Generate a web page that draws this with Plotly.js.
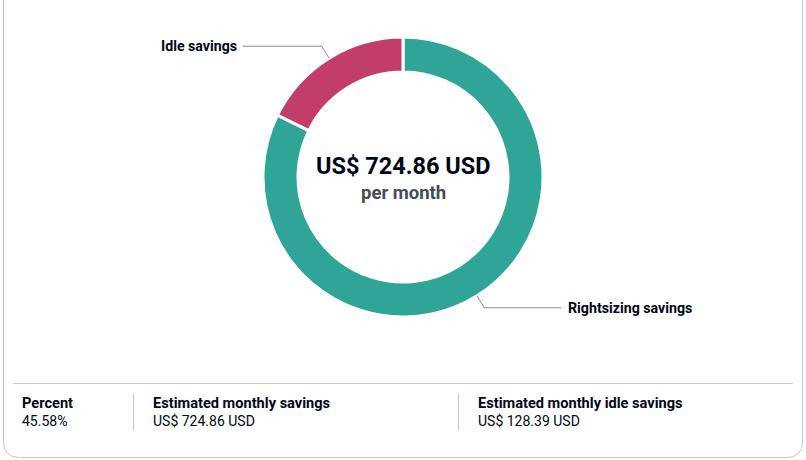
<!DOCTYPE html>
<html>
<head>
<meta charset="utf-8">
<script src="https://cdn.plot.ly/plotly-3.0.1.min.js"></script>
<style>html,body{margin:0;padding:0;background:#fff;}#chart{width:806px;height:460px;}</style>
</head>
<body>
<div id="chart"></div>
<script>
// ---- data (in drawing order, clockwise from 12 o'clock) ----
const sliceLabels = ["Rightsizing savings", "Idle savings"];
const sliceValues = [596.47, 128.39];
const sliceColors = ["#2ea597", "#c33d69"];
const centerTitle = "US$ 724.86 USD";
const centerSub = "per month";
const statHeaders = ["Percent", "Estimated monthly savings", "Estimated monthly idle savings"];
const statValues = ["45.58%", "US$ 724.86 USD", "US$ 128.39 USD"];

// ---- geometry (pixels) ----
const W = 806, H = 460;
const X = px => px / W, Y = py => 1 - py / H;
const cx = 403, cy = 177, R = 140;
const FONT = "Roboto, 'Noto Sans', sans-serif";
const DARK = "#000716";

const total = sliceValues.reduce((a, b) => a + b, 0);
const shapes = [];
const annotations = [];

// card border (rounded bottom, top out of view)
const L = 3.5, Rt = 802.5, B = 457.5, T = -30, rr = 16;
shapes.push({
  type: "path", xref: "paper", yref: "paper",
  path: `M ${X(L)} ${Y(T)} L ${X(L)} ${Y(B - rr)} Q ${X(L)} ${Y(B)} ${X(L + rr)} ${Y(B)} L ${X(Rt - rr)} ${Y(B)} Q ${X(Rt)} ${Y(B)} ${X(Rt)} ${Y(B - rr)} L ${X(Rt)} ${Y(T)}`,
  line: { color: "#c6c6cd", width: 1 }
});

// leader lines + labels, computed from slice mid-angles (clockwise from 12 o'clock)
let cum = 0;
sliceValues.forEach((v, i) => {
  const mid = (cum + v / 2) / total * 2 * Math.PI;
  cum += v;
  const sx = Math.sin(mid), sy = -Math.cos(mid);
  const p0 = [cx + R * sx, cy + R * sy];
  const p1 = [cx + (R + 14) * sx, cy + (R + 14) * sy];
  const left = p1[0] < cx;
  const p2 = [p1[0] + (left ? -79 : 77), p1[1]];
  shapes.push({
    type: "path", xref: "paper", yref: "paper",
    path: `M ${X(p0[0])} ${Y(p0[1])} L ${X(p1[0])} ${Y(p1[1])} L ${X(p2[0])} ${Y(p2[1])}`,
    line: { color: "#8c8c94", width: 1 }
  });
  annotations.push({
    xref: "paper", yref: "paper", x: X(p2[0] + (left ? -4 : 5)), y: Y(p2[1]),
    xanchor: left ? "right" : "left", yanchor: "middle", showarrow: false,
    text: "<b>" + sliceLabels[i] + "</b>",
    font: { family: FONT, size: 14.2, color: DARK }
  });
});

// center text
annotations.push({
  xref: "paper", yref: "paper", x: X(cx), y: Y(166), xanchor: "center", yanchor: "middle",
  showarrow: false, text: "<b>" + centerTitle + "</b>",
  font: { family: FONT, size: 23.5, color: DARK }
});
annotations.push({
  xref: "paper", yref: "paper", x: X(cx), y: Y(193), xanchor: "center", yanchor: "middle",
  showarrow: false, text: "<b>" + centerSub + "</b>",
  font: { family: FONT, size: 18.5, color: "#454b56" }
});

// stats section
shapes.push({ type: "line", xref: "paper", yref: "paper", x0: X(13), x1: X(793), y0: Y(383.5), y1: Y(383.5), line: { color: "#c6c6cd", width: 1 } });
const colX = [19.5, 150.5, 475.5];
const dividers = [133.5, 458.5];
dividers.forEach(d => shapes.push({ type: "line", xref: "paper", yref: "paper", x0: X(d), x1: X(d), y0: Y(394), y1: Y(430), line: { color: "#c6c6cd", width: 1 } }));
statHeaders.forEach((h, i) => {
  annotations.push({
    xref: "paper", yref: "paper", x: X(colX[i]), y: Y(403), xanchor: "left", yanchor: "middle",
    showarrow: false, text: "<b>" + h + "</b>", font: { family: FONT, size: 14.6, color: DARK }
  });
  annotations.push({
    xref: "paper", yref: "paper", x: X(colX[i]), y: Y(421), xanchor: "left", yanchor: "middle",
    showarrow: false, text: statValues[i], font: { family: FONT, size: 14, color: DARK }
  });
});

const trace = {
  type: "pie",
  labels: sliceLabels,
  values: sliceValues,
  sort: false,
  direction: "clockwise",
  rotation: 0,
  hole: 0.75,
  textinfo: "none",
  hoverinfo: "label+value",
  marker: { colors: sliceColors, line: { color: "#ffffff", width: 3 } },
  domain: { x: [X(cx - R), X(cx + R)], y: [Y(cy + R), Y(cy - R)] }
};

const layout = {
  width: W, height: H,
  margin: { l: 0, r: 0, t: 0, b: 0 },
  showlegend: false,
  paper_bgcolor: "#ffffff",
  shapes: shapes,
  annotations: annotations
};

Plotly.newPlot("chart", [trace], layout, { displayModeBar: false, staticPlot: true });
</script>
</body>
</html>
